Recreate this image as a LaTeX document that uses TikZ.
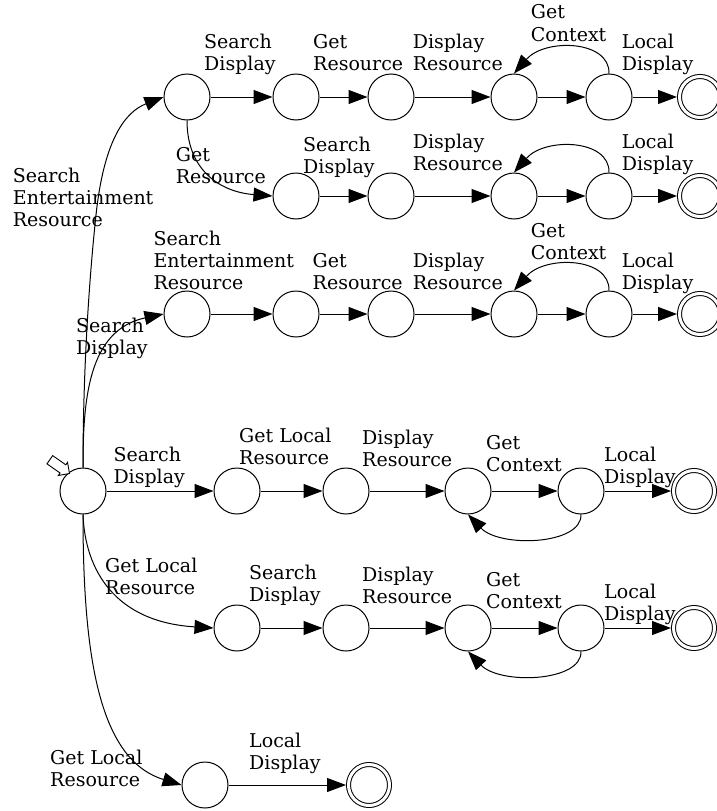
\documentclass[tikz,border=0pt]{standalone}
\usepackage{fontspec}
\setmainfont{DejaVu Serif}
\usetikzlibrary{arrows.meta}
\begin{document}
\begin{tikzpicture}[x=1pt,y=-1pt,
  state/.style={circle,draw,line width=1pt,minimum size=46pt,inner sep=0pt},
  accept/.style={circle,draw,line width=1pt,double,double distance=3pt,minimum size=41pt,inner sep=0pt,outer sep=2.5pt},
  edge/.style={line width=1pt,-{Triangle[length=19pt,width=14pt]}},
  lbl/.style={anchor=base west,align=left,inner sep=0pt,font=\fontsize{19}{22}\selectfont}]
\useasboundingbox (0,0) rectangle (717,811);
% states
\node[state] (S) at (83,491) {};
\node[state] (A1) at (187,97) {};
\node[state] (A2) at (296,97) {};
\node[state] (A3) at (391,97) {};
\node[state] (A4) at (514,97) {};
\node[state] (A5) at (609,97) {};
\node[accept] (F1) at (700,97) {};
\node[state] (B1) at (296,196) {};
\node[state] (B2) at (391,196) {};
\node[state] (B3) at (514,196) {};
\node[state] (B4) at (609,196) {};
\node[accept] (F2) at (700,196) {};
\node[state] (C1) at (187,314) {};
\node[state] (C2) at (296,314) {};
\node[state] (C3) at (391,314) {};
\node[state] (C4) at (514,314) {};
\node[state] (C5) at (609,314) {};
\node[accept] (F3) at (700,314) {};
\node[state] (D1) at (237,491) {};
\node[state] (D2) at (346,491) {};
\node[state] (D3) at (468,491) {};
\node[state] (D4) at (581,491) {};
\node[accept] (F4) at (694,491) {};
\node[state] (E1) at (237,628) {};
\node[state] (E2) at (346,628) {};
\node[state] (E3) at (468,628) {};
\node[state] (E4) at (581,628) {};
\node[accept] (F5) at (694,628) {};
\node[state] (G1) at (205,785) {};
\node[accept] (F6) at (369,785) {};
% start marker
\draw[fill=white,line width=0.9pt,shift={(1.5,-0.5)}] (68,474) -- (56.86,475.96) -- (58.58,473.51) -- (45.47,464.32) -- (51.21,456.12) -- (64.32,465.31) -- (66.04,462.86) -- cycle;
% edges from start
\draw[edge] (S.north) .. controls (83,380) and (88,290) .. (96,215) .. controls (104,140) and (125,112) .. (A1.west);
\draw[edge] (S.north) .. controls (83,400) and (88,330) .. (C1.west);
\draw[edge] (S) -- (D1);
\draw[edge] (S.south) .. controls (85,570) and (115,622) .. (E1.west);
\draw[edge] (S.south) .. controls (83,660) and (100,760) .. (G1.west);
% row 1
\draw[edge] (A1) -- (A2);
\draw[edge] (A2) -- (A3);
\draw[edge] (A3) -- (A4);
\draw[edge] (A4) -- (A5);
\draw[edge] (A5) -- (F1);
\draw[edge] (A5.north) .. controls (610,40) and (545,38) .. (A4.north);
% row 2
\draw[edge] (A1.south) .. controls (187,170) and (220,192) .. (B1.west);
\draw[edge] (B1) -- (B2);
\draw[edge] (B2) -- (B3);
\draw[edge] (B3) -- (B4);
\draw[edge] (B4) -- (F2);
\draw[edge] (B4.north) .. controls (610,139) and (545,137) .. (B3.north);
% row 3
\draw[edge] (C1) -- (C2);
\draw[edge] (C2) -- (C3);
\draw[edge] (C3) -- (C4);
\draw[edge] (C4) -- (C5);
\draw[edge] (C5) -- (F3);
\draw[edge] (C5.north) .. controls (610,257) and (545,255) .. (C4.north);
% row 4
\draw[edge] (D1) -- (D2);
\draw[edge] (D2) -- (D3);
\draw[edge] (D3) -- (D4);
\draw[edge] (D4) -- (F4);
\draw[edge] (D4.south) .. controls (582,545) and (500,548) .. (D3.south);
% row 5
\draw[edge] (E1) -- (E2);
\draw[edge] (E2) -- (E3);
\draw[edge] (E3) -- (E4);
\draw[edge] (E4) -- (F5);
\draw[edge] (E4.south) .. controls (582,682) and (500,685) .. (E3.south);
% row 6
\draw[edge] (G1) -- (F6);
% labels (anchor = baseline of last line)
\node[lbl] (l1) at (204,70) {Search\\Display};
\node[lbl] (l2) at (313,70) {Get\\Resource};
\node[lbl] (l3) at (412.7,70) {Display\\Resource};
\node[lbl] (l4) at (530.7,41) {Get\\Context};
\node[lbl] (l5) at (621.7,70) {Local\\Display};
\node[lbl] (l6) at (12.7,226) {Search\\Entertainment\\Resource};
\node[lbl] (l7) at (175.7,183) {Get\\Resource};
\node[lbl] (l8) at (303,173) {Search\\Display};
\node[lbl] (l9) at (412.7,170) {Display\\Resource};
\node[lbl] (l10) at (621.7,170) {Local\\Display};
\node[lbl] (l11) at (153.3,289) {Search\\Entertainment\\Resource};
\node[lbl] (l12) at (312.5,289) {Get\\Resource};
\node[lbl] (l13) at (412.7,289) {Display\\Resource};
\node[lbl] (l14) at (530.7,259) {Get\\Context};
\node[lbl] (l15) at (621.7,289) {Local\\Display};
\node[lbl] (l16) at (76,354) {Search\\Display};
\node[lbl] (l17) at (113.3,483) {Search\\Display};
\node[lbl] (l18) at (239,464) {Get Local\\Resource};
\node[lbl] (l19) at (362,466) {Display\\Resource};
\node[lbl] (l20) at (486,471) {Get\\Context};
\node[lbl] (l21) at (604,483) {Local\\Display};
\node[lbl] (l22) at (105,594) {Get Local\\Resource};
\node[lbl] (l23) at (249,601) {Search\\Display};
\node[lbl] (l24) at (362,603) {Display\\Resource};
\node[lbl] (l25) at (486,608) {Get\\Context};
\node[lbl] (l26) at (604,620) {Local\\Display};
\node[lbl] (l27) at (50,786.5) {Get Local\\Resource};
\node[lbl] (l28) at (249,769) {Local\\Display};
\end{tikzpicture}
\end{document}
